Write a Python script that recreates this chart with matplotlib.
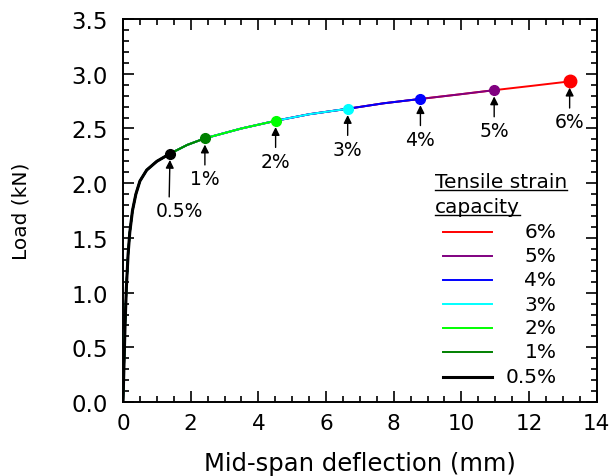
import matplotlib
matplotlib.use("Agg")
import matplotlib.pyplot as plt
from matplotlib.lines import Line2D
from matplotlib.ticker import MultipleLocator, FormatStrFormatter

plt.rcParams['font.family'] = ['DejaVu Sans']

# shared load-deflection curve (mm, kN)
deflection = [0, 0.03, 0.06, 0.1, 0.15, 0.2, 0.28, 0.38, 0.5, 0.7, 1.0, 1.39,
              1.9, 2.42, 3.5, 4.51, 5.5, 6.64, 7.7, 8.79, 9.9, 10.97, 12.1, 13.2]
load = [0, 0.35, 0.7, 1.05, 1.35, 1.55, 1.75, 1.9, 2.02, 2.12, 2.2, 2.27,
        2.35, 2.41, 2.5, 2.57, 2.63, 2.68, 2.73, 2.77, 2.81, 2.85, 2.89, 2.93]

capacities = ['6%', '5%', '4%', '3%', '2%', '1%', '0.5%']
end_deflection = [13.2, 10.97, 8.79, 6.64, 4.51, 2.42, 1.39]
end_load = [2.93, 2.85, 2.77, 2.68, 2.57, 2.41, 2.27]
colors = ['#ff0000', '#800080', '#0000ff', '#00ffff', '#00ff00', '#008000', '#000000']
widths = [1.4, 1.4, 1.4, 1.4, 1.4, 1.4, 2.2]
marker_sizes = [9, 7, 7, 7, 7, 7, 7]

fig = plt.figure(figsize=(6.12, 4.77), dpi=100)
ax = fig.add_axes([0.201, 0.155, 0.774, 0.803])

for cap, xe, ye, c, lw, ms in zip(capacities, end_deflection, end_load, colors, widths, marker_sizes):
    xs = [x for x in deflection if x <= xe]
    ys = load[:len(xs)]
    ax.plot(xs, ys, color=c, lw=lw, zorder=3)
    ax.plot([xe], [ye], 'o', color=c, ms=ms, zorder=4)
    small = cap == '0.5%'
    ax.annotate(cap, xy=(xe, ye), xytext=(6.5 if small else 0, -41 if small else -29),
                textcoords='offset points', ha='center', va='center', fontsize=13.5,
                arrowprops=dict(arrowstyle='-|>', color='k', lw=1, mutation_scale=12,
                                shrinkA=1, shrinkB=4.5,
                                relpos=(0.29 if small else 0.5, 1.0)))

ax.set_xlim(0, 14)
ax.set_ylim(0, 3.5)
ax.xaxis.set_major_locator(MultipleLocator(2))
ax.xaxis.set_minor_locator(MultipleLocator(0.5))
ax.yaxis.set_major_locator(MultipleLocator(0.5))
ax.yaxis.set_minor_locator(MultipleLocator(0.1))
ax.yaxis.set_major_formatter(FormatStrFormatter('%.1f'))
ax.tick_params(which='both', direction='in', top=True, right=True, width=1.2)
ax.tick_params(which='major', length=8)
ax.tick_params(which='minor', length=4)
ax.tick_params(axis='x', labelsize=15.5, pad=8)
ax.tick_params(axis='y', labelsize=16.5, pad=11)
for s in ax.spines.values():
    s.set_linewidth(1.4)
ax.set_xlabel('Mid-span deflection (mm)', fontsize=17.5)
ax.set_ylabel('Load (kN)', fontsize=14.5)
ax.xaxis.set_label_coords(0.5, -0.127)
ax.yaxis.set_label_coords(-0.196, 0.5)

# legend drawn by hand to match the original layout
t1 = ax.text(0.658, 0.575, 'Tensile strain', transform=ax.transAxes, fontsize=14.5, va='center')
t2 = ax.text(0.658, 0.51, 'capacity', transform=ax.transAxes, fontsize=14.5, va='center')
row_y = [0.445, 0.382, 0.319, 0.256, 0.194, 0.131, 0.066]
for cap, c, lw, yy in zip(capacities, colors, widths, row_y):
    ax.add_line(Line2D([0.675, 0.78], [yy, yy], transform=ax.transAxes, color=c, lw=lw))
    ax.text(0.915, yy, cap, transform=ax.transAxes, fontsize=14.5, ha='right', va='center')

fig.canvas.draw()
r = fig.canvas.get_renderer()
inv = ax.transAxes.inverted()
for t in (t1, t2):
    bb = t.get_window_extent(r)
    (x0, y0), (x1, _) = inv.transform([(bb.x0, bb.y0), (bb.x1, bb.y0)])
    ax.add_line(Line2D([x0, x1], [y0 + 0.004, y0 + 0.004], transform=ax.transAxes, color='k', lw=1))

fig.savefig('out.png', dpi=100)
